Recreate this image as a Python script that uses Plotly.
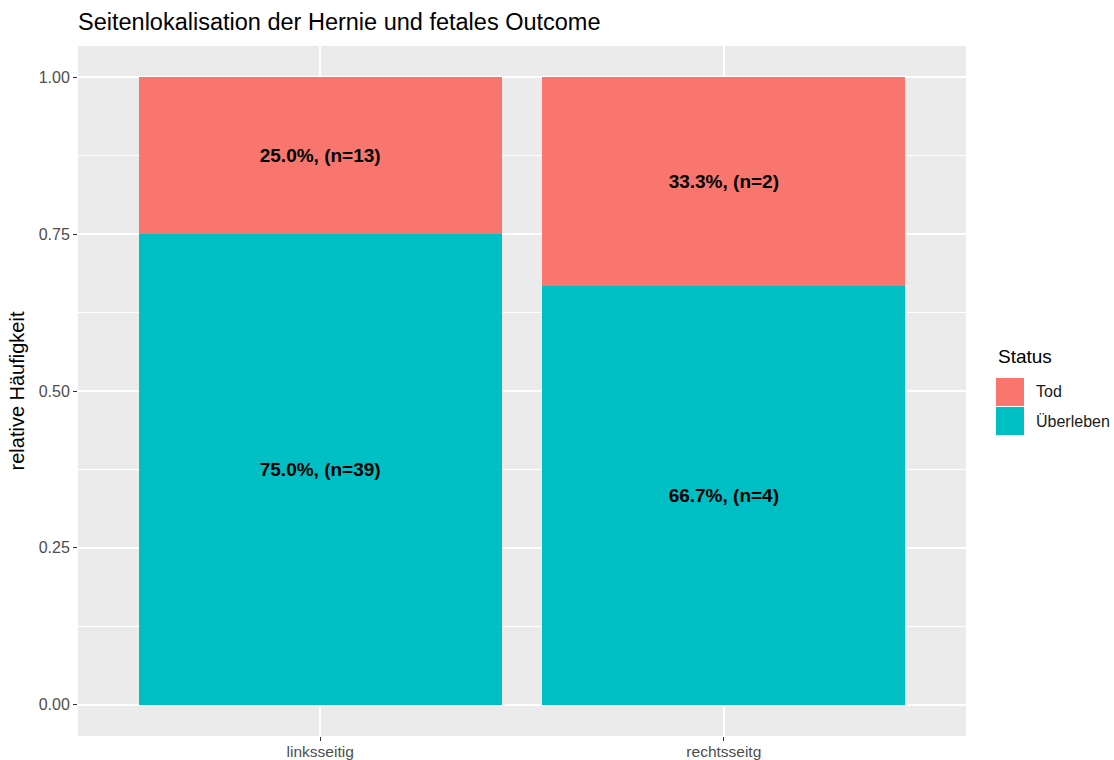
import plotly.graph_objects as go

categories = ["linksseitig", "rechtsseitg"]
status_levels = ["Tod", "Überleben"]
share_tod = [0.25, 1/3]
share_ueberleben = [0.75, 2/3]
n_tod = [13, 2]
n_ueberleben = [39, 4]
y_ticks = [0.0, 0.25, 0.5, 0.75, 1.0]

col_tod = "#F8766D"
col_ueb = "#00BFC4"
FONT = "Liberation Sans, Arial, sans-serif"

def labels(shares, ns):
    return [f"{s*100:.1f}%, (n={n})" for s, n in zip(shares, ns)]

fig = go.Figure()
fig.add_trace(go.Bar(
    x=categories, y=share_ueberleben, name="Überleben", marker=dict(color=col_ueb, line=dict(width=0)),
    text=labels(share_ueberleben, n_ueberleben), textposition="inside", insidetextanchor="middle",
    textfont=dict(color="black", size=19, family=FONT, weight="bold"), width=0.9, showlegend=False,
    constraintext="none"))
fig.add_trace(go.Bar(
    x=categories, y=share_tod, name="Tod", marker=dict(color=col_tod, line=dict(width=0)),
    text=labels(share_tod, n_tod), textposition="inside", insidetextanchor="middle",
    textfont=dict(color="black", size=19, family=FONT, weight="bold"), width=0.9, showlegend=False,
    constraintext="none"))

L, R, T, B = 78, 148, 46, 24
W, H = 1114, 760
pw, ph = W - L - R, H - T - B

def px(x):
    return (x - L) / pw

def py(y):
    return (H - B - y) / ph

shapes = []
annotations = []
# manual legend
annotations.append(dict(text="Status", x=px(996), y=py(356), xref="paper", yref="paper",
                        xanchor="left", yanchor="middle", showarrow=False,
                        font=dict(size=19, color="black", family=FONT)))
for i, (lab, col) in enumerate(zip(status_levels, [col_tod, col_ueb])):
    y0 = 378 + i * 29
    shapes.append(dict(type="rect", xref="paper", yref="paper", x0=px(996), x1=px(1024),
                       y0=py(y0 + 28), y1=py(y0), fillcolor=col, line=dict(width=0)))
    annotations.append(dict(text=lab, x=px(1034), y=py(y0 + 14), xref="paper", yref="paper",
                            xanchor="left", yanchor="middle", showarrow=False,
                            font=dict(size=16, color="#1A1A1A", family=FONT)))

fig.update_layout(
    width=W, height=H,
    margin=dict(l=L, r=R, t=T, b=B, autoexpand=False),
    paper_bgcolor="white", plot_bgcolor="#EBEBEB",
    barmode="stack", bargap=0.1,
    font=dict(family=FONT),
    title=dict(text="Seitenlokalisation der Hernie und fetales Outcome", x=px(78), xref="paper",
               xanchor="left", y=1 - 22 / H, yref="container", yanchor="middle",
               font=dict(size=23.5, color="black", family=FONT)),
    shapes=shapes, annotations=annotations,
    uniformtext=dict(mode=False),
)
fig.update_xaxes(range=[-0.6, 1.6], showgrid=True, gridcolor="white", gridwidth=1.6,
                 ticks="outside", ticklen=4, tickcolor="#333333", tickwidth=1.2, automargin=False,
                 ticklabelstandoff=-3,
                 tickfont=dict(size=15.5, color="#4D4D4D", family=FONT), zeroline=False, showline=False)
fig.update_yaxes(range=[-0.05, 1.05], tickvals=y_ticks, ticktext=[f"{v:.2f}" for v in y_ticks],
                 showgrid=True, gridcolor="white", gridwidth=1.6, automargin=False,
                 minor=dict(tickvals=[0.125, 0.375, 0.625, 0.875], showgrid=True, gridcolor="white", gridwidth=0.8, ticks=""),
                 ticks="outside", ticklen=4, tickcolor="#333333", tickwidth=1.2,
                 tickfont=dict(size=16, color="#4D4D4D", family=FONT), zeroline=False, showline=False,
                 title=dict(text="relative Häufigkeit", standoff=8, font=dict(size=20, color="black", family=FONT)))

fig.write_html("out.html", config={"displayModeBar": False},
               post_script="document.body.style.margin='0';document.body.style.overflow='hidden';")
